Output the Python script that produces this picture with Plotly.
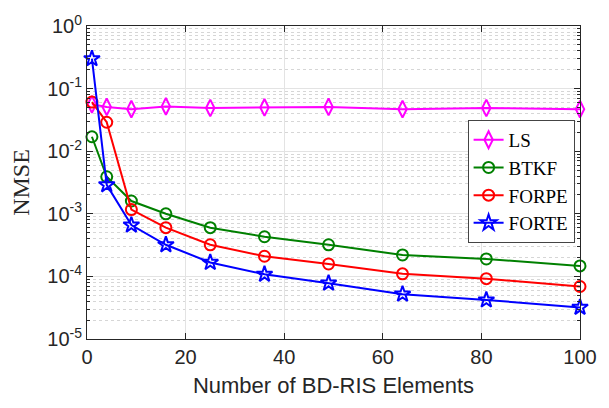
import plotly.graph_objects as go

x_elements = [1, 4, 9, 16, 25, 36, 49, 64, 81, 100]
nmse_ls = [0.056, 0.051, 0.047, 0.052, 0.049, 0.050, 0.051, 0.047, 0.049, 0.047]
nmse_btkf = [0.017, 0.0039, 0.0016, 0.0010, 0.00060, 0.00043, 0.00032, 0.00022, 0.00019, 0.000147]
nmse_forpe = [0.061, 0.029, 0.00117, 0.00060, 0.00032, 0.00021, 0.000158, 0.00011, 0.000092, 0.000069]
nmse_forte = [0.30, 0.0029, 0.00066, 0.00032, 0.000167, 0.000108, 0.000078, 0.000052, 0.000042, 0.000032]

y_tickvals = [1e-5, 1e-4, 1e-3, 1e-2, 1e-1, 1e0]
y_ticktext = ["10<sup>-5</sup>", "10<sup>-4</sup>", "10<sup>-3</sup>", "10<sup>-2</sup>",
              "10<sup>-1</sup>", "10<sup>0</sup>"]

series = [
    ("LS", nmse_ls, "#FF00FF", "diamond-tall-open", 12),
    ("BTKF", nmse_btkf, "#008000", "circle-open", 11),
    ("FORPE", nmse_forpe, "#FF0000", "circle-open", 11),
    ("FORTE", nmse_forte, "#0000FF", "star-open", 12),
]

fig = go.Figure()
for name, ys, color, sym, size in series:
    fig.add_trace(go.Scatter(
        x=x_elements, y=ys, name=name, mode="lines+markers",
        line=dict(color=color, width=2),
        marker=dict(symbol=sym, size=size, color=color, line=dict(color=color, width=2)),
        cliponaxis=False,
    ))

sans = "Liberation Sans"
serif = "Liberation Serif"
tick_font = dict(family=sans, size=20, color="#262626")

fig.update_layout(
    width=609, height=408,
    margin=dict(l=87, r=23, t=19, b=69),
    paper_bgcolor="white", plot_bgcolor="white",
    font=dict(family=sans, size=20, color="#262626"),
    showlegend=True,
    legend=dict(
        x=0.772, y=0.70, xanchor="left", yanchor="top",
        bgcolor="white", bordercolor="#444444", borderwidth=1,
        font=dict(family=serif, size=19, color="black"),
        tracegroupgap=0, itemwidth=30,
    ),
    xaxis=dict(
        range=[0, 100], tickmode="linear", tick0=0, dtick=20,
        tickfont=tick_font,
        showline=True, linecolor="#262626", linewidth=1, mirror="ticks",
        ticks="inside", ticklen=6, tickcolor="#262626",
        showgrid=True, gridcolor="#E3E3E3", gridwidth=1, zeroline=False,
        title=dict(text="Number of BD-RIS Elements", font=dict(family=sans, size=22, color="#262626"), standoff=10),
    ),
    yaxis=dict(
        type="log", range=[-5, 0],
        tickmode="array", tickvals=y_tickvals, ticktext=y_ticktext,
        tickfont=tick_font,
        showline=True, linecolor="#262626", linewidth=1, mirror="ticks",
        ticks="inside", ticklen=6, tickcolor="#262626",
        showgrid=True, gridcolor="#E3E3E3", gridwidth=1, zeroline=False,
        minor=dict(dtick="D1", ticks="inside", ticklen=3, tickcolor="#262626",
                   showgrid=True, gridcolor="#D6D6D6", griddash="dot", gridwidth=1),
        title=dict(text="NMSE", font=dict(family=serif, size=24, color="#262626"), standoff=10),
    ),
)

fig.write_html("out.html")
